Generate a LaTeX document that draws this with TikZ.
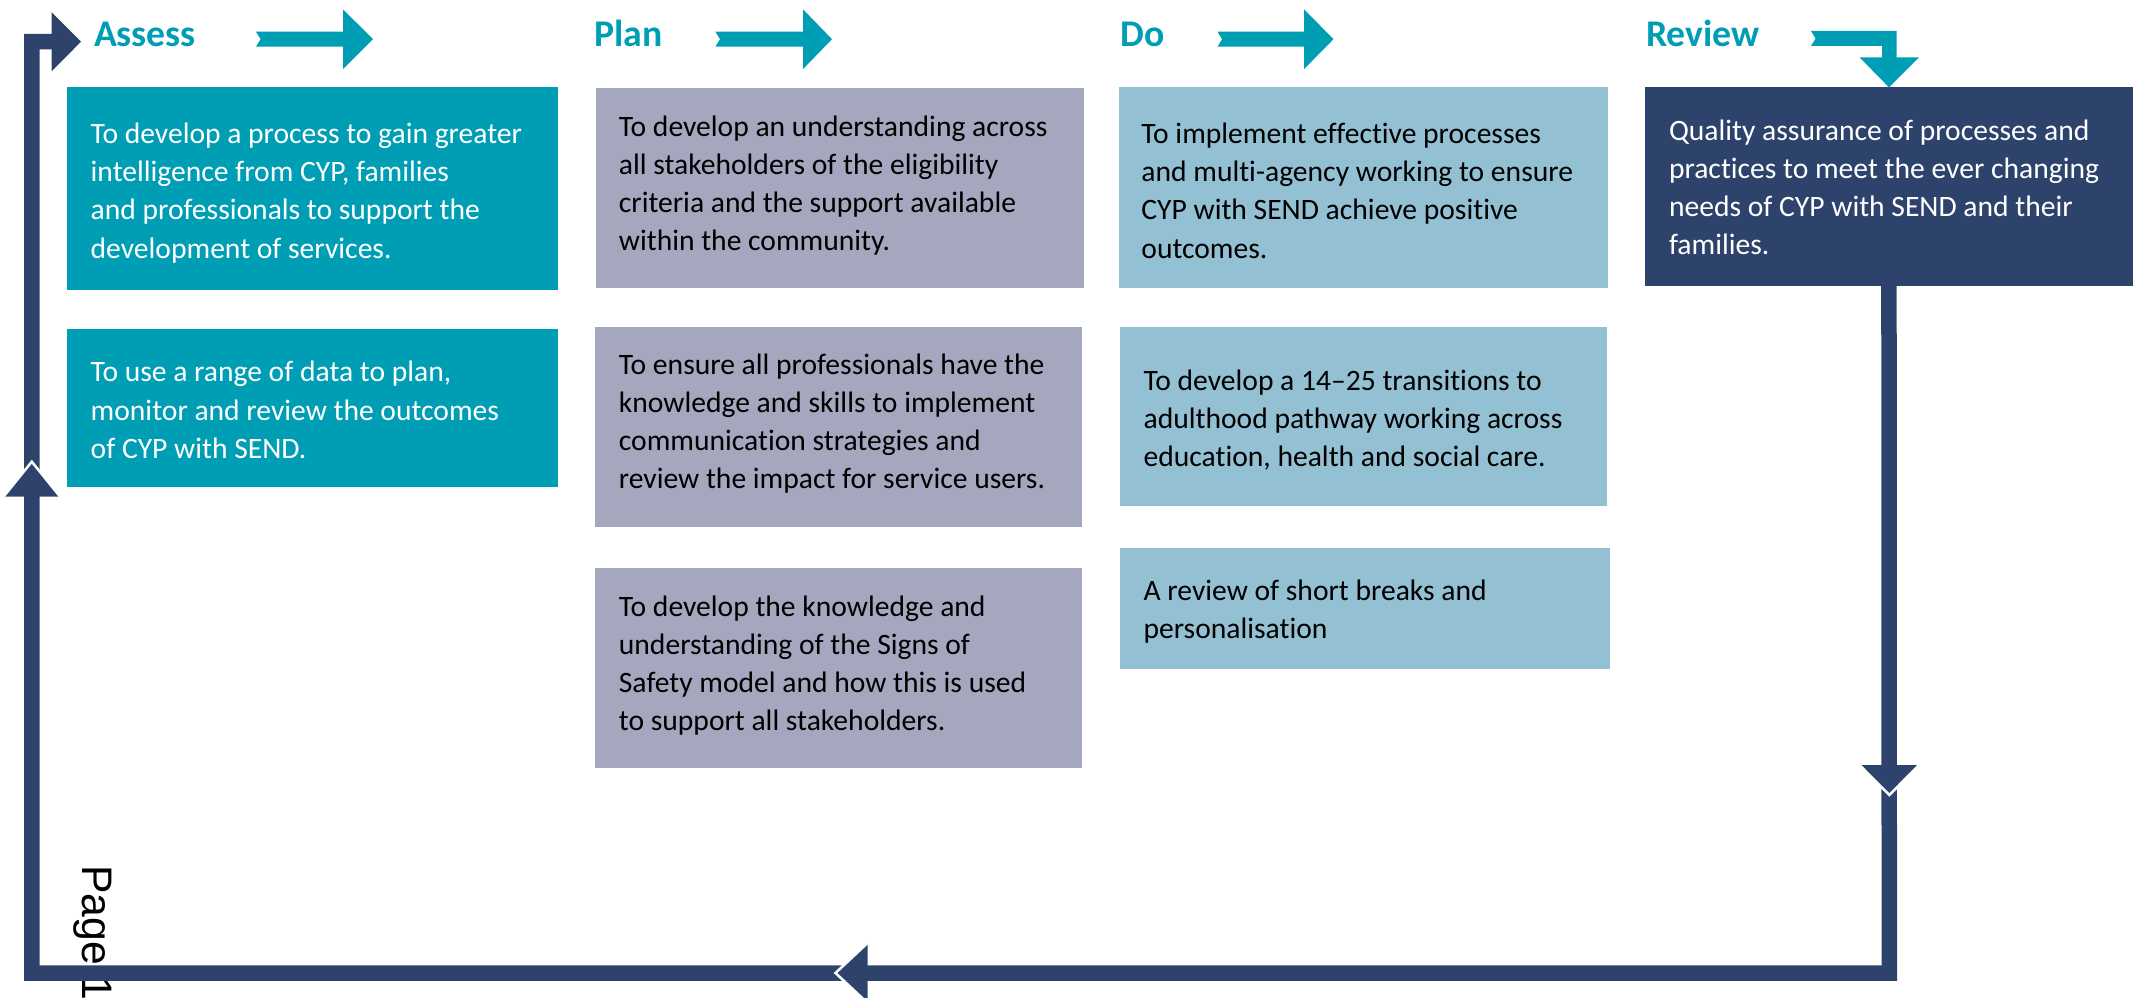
\documentclass[tikz,border=0pt]{standalone}
\usepackage{fontspec}
\setmainfont{Carlito}[Ligatures=CommonOff]
\newfontfamily\pagefont{Liberation Sans}
\definecolor{cteal}{RGB}{0,158,180}
\definecolor{cnavy}{RGB}{46,67,107}
\definecolor{cplan}{RGB}{165,167,190}
\definecolor{cdo}{RGB}{147,192,210}
\newcommand\lns[1]{\parbox[t]{480pt}{#1}}
\newcommand\tarrow[3]{\fill[cteal] (#1,31.7) -- (#2,31.7) -- (#2,9.3) -- (#3,39.2) -- (#2,69.1) -- (#2,46.7) -- (#1,46.7) -- (#1+4.6,39.2) -- cycle;}
\tikzset{
  box/.style={anchor=north west, inner sep=0pt, outer sep=0pt, draw=none, rectangle},
  bodytxt/.style={anchor=base west, inner sep=0pt, outer sep=0pt, font=\fontsize{29.6pt}{38.3pt}\selectfont},
  head/.style={anchor=base west, inner sep=0pt, outer sep=0pt, text=cteal, font=\fontsize{37.7pt}{40pt}\selectfont\bfseries},
  loopline/.style={draw=cnavy, line width=15.5pt, line join=miter, line cap=butt},
  navyhead/.style={fill=cnavy},
  notch/.style={draw=white, line width=2.5pt}
}
\begin{document}
\begin{tikzpicture}[x=1pt,y=-1pt]
\useasboundingbox (0,0) rectangle (2141,998);

% headings
\node[head] (hA) at (94,46.7) {Assess};
\node[head] (hP) at (594.5,46.7) {Plan};
\node[head] (hD) at (1120.5,46.7) {Do};
\node[head] (hR) at (1646,46.7) {Review};

% teal arrows
\tarrow{256}{343}{373}
\tarrow{715.4}{803}{832}
\tarrow{1217.5}{1304}{1333.5}

% boxes
\node[box, fill=cteal, minimum width=491pt, minimum height=202.4pt] (a1) at (67,87.3) {};
\node[box, fill=cteal, minimum width=491pt, minimum height=158pt] (a2) at (67,329.3) {};
\node[box, fill=cplan, minimum width=488.3pt, minimum height=199.7pt] (p1) at (595.7,88) {};
\node[box, fill=cplan, minimum width=487pt, minimum height=199.7pt] (p2) at (595,327) {};
\node[box, fill=cplan, minimum width=487pt, minimum height=199.7pt] (p3) at (595,568) {};
\node[box, fill=cdo, minimum width=489.5pt, minimum height=200.4pt] (d1) at (1118.9,87.3) {};
\node[box, fill=cdo, minimum width=486.7pt, minimum height=178.7pt] (d2) at (1120,327) {};
\node[box, fill=cdo, minimum width=490pt, minimum height=120.7pt] (d3) at (1120,548) {};
\node[box, fill=cnavy, minimum width=488.1pt, minimum height=198.4pt] (rev) at (1644.9,87.3) {};

% review arrow (teal, bent)
\fill[cteal] (1811,31) -- (1896.7,31) -- (1896.7,57.3) -- (1919,57.3) -- (rev.north) -- (1859.5,57.3) -- (1882,57.3) -- (1882,46) -- (1811,46) -- (1815.6,38.5) -- cycle;

% texts
\node[bodytxt, text=white] (a1t) at (90.7,143.3) {\lns{To develop a process to gain greater\\intelligence from CYP, families\\and professionals to support the\\development of services.}};
\node[bodytxt, text=white] (a2t) at (90.7,381.7) {\lns{To use a range of data to plan,\\monitor and review the outcomes\\of CYP with SEND.}};
\node[bodytxt, text=black] (p1t) at (618.9,136) {\lns{To develop an understanding across\\all stakeholders of the eligibility\\criteria and the support available\\within the community.}};
\node[bodytxt, text=black] (p2t) at (618.9,374) {\lns{To ensure all professionals have the\\knowledge and skills to implement\\communication strategies and\\review the impact for service users.}};
\node[bodytxt, text=black] (p3t) at (618.9,616) {\lns{To develop the knowledge and\\understanding of the Signs of\\Safety model and how this is used\\to support all stakeholders.}};
\node[bodytxt, text=black] (d1t) at (1141.4,143.3) {\lns{To implement effective processes\\and multi-agency working to ensure\\CYP with SEND achieve positive\\outcomes.}};
\node[bodytxt, text=black] (d2t) at (1143.6,390) {\lns{To develop a 14–25 transitions to\\adulthood pathway working across\\education, health and social care.}};
\node[bodytxt, text=black] (d3t) at (1143.6,600) {\lns{A review of short breaks and\\personalisation}};
\node[bodytxt, text=white] (rt) at (1669,140) {\lns{Quality assurance of processes and\\practices to meet the ever changing\\needs of CYP with SEND and their\\families.}};

% page label
\node[anchor=base west, inner sep=0pt, rotate=-90, font=\pagefont\fontsize{42.7pt}{44pt}\selectfont] (pg) at (82.7,865) {Page 1};

% loop
\coordinate (cBR) at (1889.3,973);
\coordinate (cBL) at (31.8,973);
\coordinate (cTL) at (31.8,41.7);
\coordinate (cTA) at (52,41.7);
\draw[loopline] (rev.south) -- (cBR) -- (cBL) -- (cTL) -- (cTA);

% navy arrowheads
\fill[navyhead] (51.7,12.2) -- (81,41.7) -- (51.7,71.2) -- cycle;
\fill[navyhead] (3.5,496.7) -- (31.8,461.7) -- (60.1,496.7) -- cycle;
\draw[notch] (3.5,496.7) -- (31.8,461.7) -- (60.1,496.7);
\fill[navyhead] (1859.5,765) -- (1889.3,795) -- (1919.1,765) -- cycle;
\draw[notch] (1859.5,765) -- (1889.3,795) -- (1919.1,765);
\fill[navyhead] (867.5,943) -- (835.5,973) -- (867.5,1003) -- cycle;
\draw[notch] (867.5,943) -- (835.5,973) -- (867.5,1003);
\end{tikzpicture}
\end{document}
